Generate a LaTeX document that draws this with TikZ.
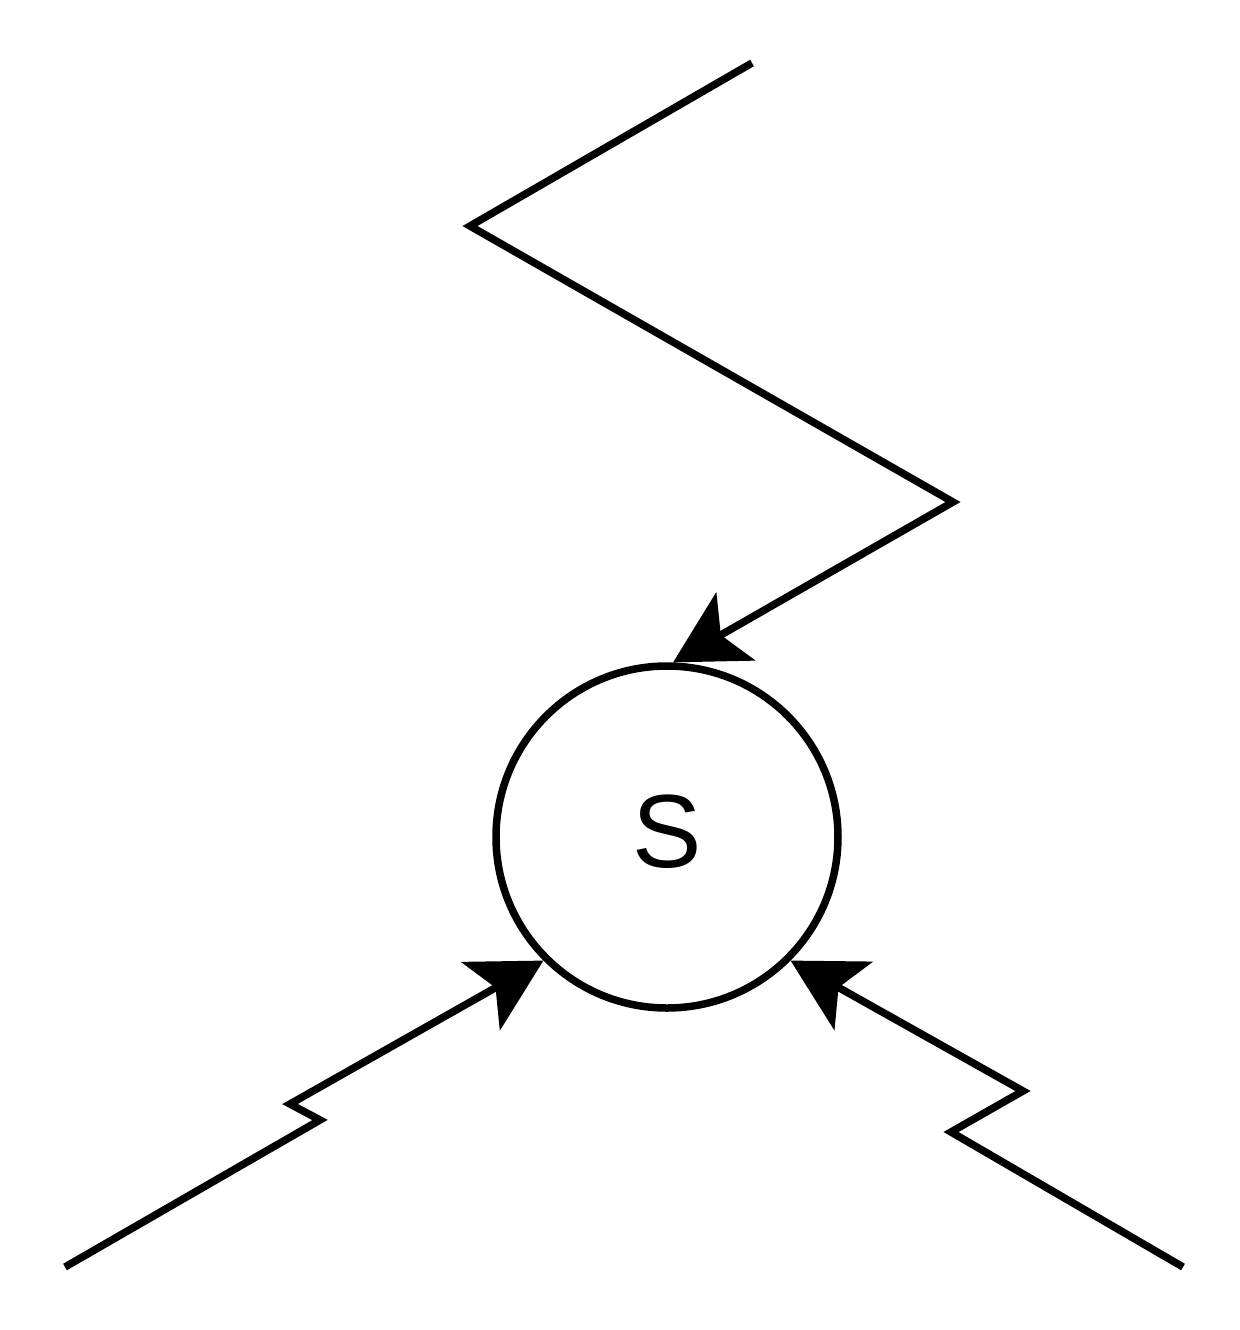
\documentclass[tikz,border=0pt]{standalone}
\usepackage{fontspec}
\setmainfont{Liberation Sans}
\usetikzlibrary{arrows.meta}

\begin{document}
\begin{tikzpicture}[x=0.5pt,y=-0.5pt,
        wire/.style={line width=3.75pt},
        feed/.style={wire,-{Stealth[length=36pt,width=39pt,inset=8.5pt]}}]
            \useasboundingbox (0,0) rectangle (1239,1330);
            \node[circle,draw,line width=3.75pt,minimum size=171pt,inner sep=0pt,
                  text depth=6pt,font=\fontsize{52}{60}\selectfont] (s) at (667,837) {S};
            % top
            \coordinate (a1) at (752,63);
            \coordinate (a2) at (470,226);
            \coordinate (a3) at (953,502);
            \draw[feed] (a1) -- (a2) -- (a3) -- (s.88);
            % bottom left
            \coordinate (b1) at (65,1267);
            \coordinate (b2) at (320,1120);
            \coordinate (b3) at (290,1104);
            \draw[feed] (b1) -- (b2) -- (b3) -- (s.225);
            % bottom right
            \coordinate (c1) at (1183,1267);
            \coordinate (c2) at (951,1132);
            \coordinate (c3) at (1023,1091);
            \draw[feed] (c1) -- (c2) -- (c3) -- (s.315);
        \end{tikzpicture}
\end{document}
